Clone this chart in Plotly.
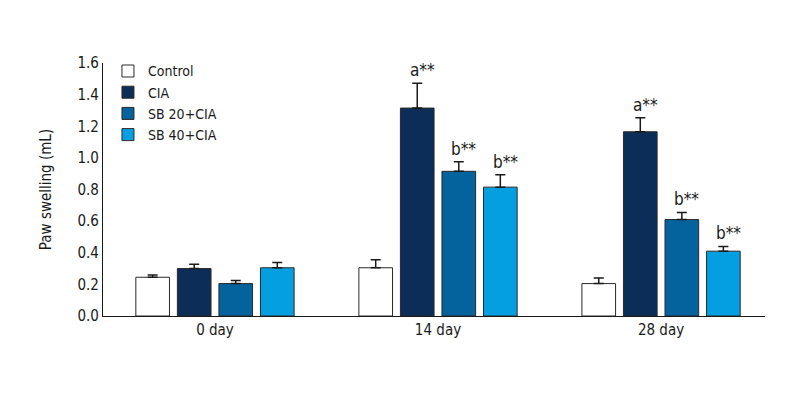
import plotly.graph_objects as go

groups = ["0 day", "14 day", "28 day"]
series = ["Control", "CIA", "SB 20+CIA", "SB 40+CIA"]
values = {
    "Control":   [0.245, 0.305, 0.205],
    "CIA":       [0.300, 1.315, 1.165],
    "SB 20+CIA": [0.205, 0.915, 0.610],
    "SB 40+CIA": [0.305, 0.815, 0.410],
}
errors = {
    "Control":   [0.015, 0.050, 0.036],
    "CIA":       [0.028, 0.157, 0.088],
    "SB 20+CIA": [0.020, 0.060, 0.045],
    "SB 40+CIA": [0.034, 0.078, 0.030],
}
labels = {
    "Control":   ["", "", ""],
    "CIA":       ["", "a**", "a**"],
    "SB 20+CIA": ["", "b**", "b**"],
    "SB 40+CIA": ["", "b**", "b**"],
}
colors = ["#ffffff", "#0b2d57", "#04629d", "#039fe0"]

FONT = "DejaVu Sans Condensed, Liberation Sans Narrow, sans-serif"
bargap = 0.255
xs = list(range(len(groups)))

fig = go.Figure()
for s, c in zip(series, colors):
    fig.add_trace(go.Bar(
        name=s, x=xs, y=values[s],
        marker=dict(color=c, line=dict(color="#2a2a2a", width=1)),
        error_y=dict(type="data", symmetric=False, array=errors[s],
                     arrayminus=[0] * len(groups), color="#1a1a1a",
                     thickness=1.5, width=5),
    ))

slot = (1 - bargap) / len(series)
for i, s in enumerate(series):
    for g in xs:
        t = labels[s][g]
        if t:
            fig.add_annotation(
                x=g + (i - (len(series) - 1) / 2) * slot,
                y=values[s][g] + errors[s][g],
                text=t, showarrow=False, xanchor="center", yanchor="bottom",
                xshift=5, yshift=1,
                font=dict(family=FONT, size=17, color="#1a1a1a"),
            )

fig.update_layout(
    width=800, height=400,
    margin=dict(l=95, r=43, t=55, b=92, autoexpand=False),
    paper_bgcolor="white", plot_bgcolor="white",
    barmode="group", bargap=bargap, bargroupgap=0.19,
    font=dict(family=FONT, size=14, color="#1a1a1a"),
    showlegend=True,
    legend=dict(x=0.0075, y=1.03, xanchor="left", yanchor="top",
                font=dict(family=FONT, size=14), tracegroupgap=0,
                itemwidth=30, bgcolor="rgba(0,0,0,0)"),
    xaxis=dict(range=[-0.502, 2.466], tickvals=xs, ticktext=groups,
               showline=True, linecolor="#1a1a1a", linewidth=1.2,
               showgrid=False, zeroline=False, ticks="", automargin=False,
               tickfont=dict(family=FONT, size=15)),
    yaxis=dict(range=[0, 1.6], dtick=0.2, tickformat=".1f",
               showline=True, linecolor="#1a1a1a", linewidth=1.2,
               showgrid=False, zeroline=False, ticks="", automargin=False,
               tickfont=dict(family=FONT, size=15),
               title=dict(text="Paw swelling (mL)", standoff=22,
                          font=dict(family=FONT, size=15))),
)

fig.write_html("out.html")
